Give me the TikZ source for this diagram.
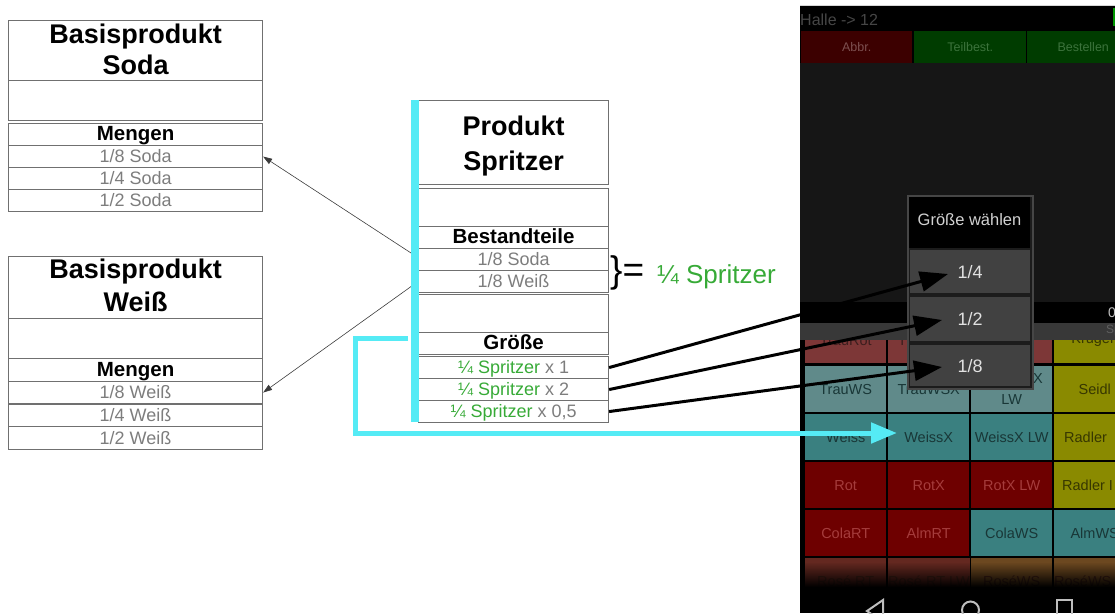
\documentclass[tikz,border=0pt]{standalone}
\usepackage{fontspec}
\setmainfont{Liberation Sans}
\usetikzlibrary{arrows.meta,fadings}
\definecolor{boxgray}{RGB}{112,112,112}
\definecolor{rowgray}{RGB}{125,125,125}
\definecolor{sgreen}{RGB}{55,170,55}
\definecolor{cyanl}{RGB}{85,235,245}
\definecolor{teal1}{RGB}{58,128,128}
\definecolor{trau}{RGB}{96,138,138}
\definecolor{yel}{RGB}{138,138,0}
\definecolor{red1}{RGB}{110,0,0}
\definecolor{red0}{RGB}{125,55,55}
\definecolor{roseRT}{RGB}{100,40,32}
\definecolor{roseWS}{RGB}{108,72,32}
\definecolor{txtteal}{RGB}{25,55,55}
\definecolor{txtred}{RGB}{165,60,60}
\definecolor{txtyel}{RGB}{55,55,0}
\definecolor{txtdark}{RGB}{60,30,30}
\definecolor{txtrose}{RGB}{70,35,25}
\definecolor{topline}{RGB}{215,215,215}
\definecolor{halle}{RGB}{70,70,70}
\definecolor{statusgreen}{RGB}{0,150,0}
\definecolor{btnred}{RGB}{60,0,0}
\definecolor{btngreen}{RGB}{0,60,0}
\definecolor{btnredtxt}{RGB}{125,80,80}
\definecolor{btngreentxt}{RGB}{60,115,60}
\definecolor{darkarea}{RGB}{22,22,22}
\definecolor{graybar}{RGB}{56,56,56}
\definecolor{dlgbg}{RGB}{28,28,28}
\definecolor{dlgborder}{RGB}{70,70,70}
\definecolor{optgray}{RGB}{65,65,65}
\definecolor{opttxt}{RGB}{225,225,225}
\definecolor{dlgtxt}{RGB}{210,210,210}
\definecolor{navgray}{RGB}{190,190,190}
\definecolor{thinarrow}{RGB}{60,60,60}
\tikzfading[name=fadedown, top color=transparent!100, bottom color=transparent!0]
\newcommand\dstrut[1]{\rule[-#1]{0pt}{#1}}
\newcommand\ttlfontA{\fontsize{27}{31}\selectfont\bfseries}
\newcommand\ttlfontB{\fontsize{27}{33}\selectfont\bfseries}
\newcommand\ttlfontC{\fontsize{27}{35}\selectfont\bfseries}
\newcommand\lblfont{\fontsize{20.5}{22}\selectfont\bfseries}
\newcommand\itmfont{\fontsize{18}{20}\selectfont}
\newcommand\cellfont{\fontsize{14.5}{21}\selectfont}
\newcommand\sgr[1]{\textcolor{sgreen}{#1}}
\begin{document}
\begin{tikzpicture}[x=1pt,y=-1pt,
  cellbase/.style={draw=boxgray, line width=1.1pt, rectangle, inner sep=0pt, anchor=north west},
  ttl/.style={cellbase, align=center, text=black},
  lbl/.style={cellbase, font=\lblfont, text=black, text height=12pt, text depth=0pt},
  itm/.style={cellbase, font=\itmfont, text=rowgray, text height=12pt, text depth=0pt},
  emp/.style={cellbase},
  pc/.style={rectangle, inner sep=0pt, anchor=north west, minimum width=81pt, minimum height=46pt, font=\cellfont},
  btn/.style={rectangle, inner sep=0pt, anchor=north west, minimum height=32pt, font=\fontsize{12.5}{13}\selectfont},
  opt/.style={rectangle, inner sep=0pt, anchor=north west, minimum width=120pt, fill=optgray, text=opttxt, font=\fontsize{18}{18}\selectfont},
  thinarr/.style={draw=thinarrow, line width=0.6pt, -{Triangle[length=9pt,width=6pt]}},
  blkarr/.style={draw=black, line width=3pt, -{Triangle[length=28pt,width=20pt]}},
  cyanarr/.style={draw=cyanl, line width=5pt, line join=miter, -{Triangle[length=26pt,width=20pt]}},
  navicon/.style={draw=navgray, line width=2pt}
]
\useasboundingbox (0,0) rectangle (1115,613);

% ---------- Basisprodukt Soda ----------
\node[ttl, font=\ttlfontA, minimum width=254pt, minimum height=60pt] (sT) at (8,20) {Basisprodukt\\Soda\dstrut{2.7pt}};
\node[emp, minimum width=254pt, minimum height=40pt] (sE) at (8,80) {};
\node[lbl, minimum width=254pt, minimum height=22pt] (sM) at (8,123) {Mengen};
\node[itm, minimum width=254pt, minimum height=22pt] (s1) at (8,145) {1/8 Soda};
\node[itm, minimum width=254pt, minimum height=22pt] (s2) at (8,167) {1/4 Soda};
\node[itm, minimum width=254pt, minimum height=22pt] (s3) at (8,189) {1/2 Soda};

% ---------- Basisprodukt Weiß ----------
\node[ttl, font=\ttlfontB, minimum width=254pt, minimum height=62pt] (wT) at (8,256) {Basisprodukt\\Weiß\dstrut{4.7pt}};
\node[emp, minimum width=254pt, minimum height=40pt] (wE) at (8,318) {};
\node[lbl, minimum width=254pt, minimum height=23pt] (wM) at (8,358) {Mengen};
\node[itm, minimum width=254pt, minimum height=22pt] (w1) at (8,381) {1/8 Weiß};
\node[itm, minimum width=254pt, minimum height=22pt] (w2) at (8,404) {1/4 Weiß};
\node[itm, minimum width=254pt, minimum height=23pt] (w3) at (8,426) {1/2 Weiß};

% ---------- Produkt Spritzer ----------
\node[ttl, font=\ttlfontC, minimum width=190pt, minimum height=84pt] (pT) at (418,100) {\rule{0pt}{26.7pt}Produkt\\Spritzer};
\node[emp, minimum width=190pt, minimum height=38pt] (pE1) at (418,188) {};
\node[lbl, minimum width=190pt, minimum height=22pt] (pB) at (418,226) {Bestandteile};
\node[itm, minimum width=190pt, minimum height=22pt] (p1) at (418,248) {1/8 Soda};
\node[itm, minimum width=190pt, minimum height=22pt] (p2) at (418,270) {1/8 Weiß};
\node[emp, minimum width=190pt, minimum height=38pt] (pE2) at (418,294) {};
\node[lbl, minimum width=190pt, minimum height=22pt] (pG) at (418,332) {Größe};
\node[itm, minimum width=190pt, minimum height=22pt] (r1) at (418,356) {\sgr{¼ Spritzer} x 1};
\node[itm, minimum width=190pt, minimum height=22pt] (r2) at (418,378) {\sgr{¼ Spritzer} x 2};
\node[itm, minimum width=190pt, minimum height=22pt] (r3) at (418,400) {\sgr{¼ Spritzer} x 0,5};

% thin connectors to base products
\draw[thinarr] ([yshift=2pt]p1.west) -- (s1.east);
\draw[thinarr] (p2.west) -- (w1.east);

% cyan bar
\fill[cyanl] (411,100) rectangle (419,422);

% brace and equation
\node[anchor=base west, inner sep=0pt, font=\fontsize{37}{37}\selectfont] (brc) at (610,282) {\}=};
\node[anchor=base west, inner sep=0pt, font=\fontsize{26}{26}\selectfont, text=sgreen] (eq) at (657,283) {¼ Spritzer};

% ---------- phone screenshot ----------
\begin{scope}
\clip (800,0) rectangle (1115,613);
\fill[black] (800,6) rectangle (1115,613);
\draw[topline, line width=1.5pt] (800,5.5) -- (1115,5.5);
\node[anchor=base west, inner sep=0pt, font=\fontsize{16}{16}\selectfont, text=halle] (hal) at (800,25) {Halle -> 12};
\fill[statusgreen] (1113,8) rectangle (1115,26);
\node[btn, fill=btnred, text=btnredtxt, minimum width=111pt] (bAb) at (801,31) {Abbr.};
\node[btn, fill=btngreen, text=btngreentxt, minimum width=112pt] (bTe) at (914,31) {Teilbest.};
\node[btn, fill=btngreen, text=btngreentxt, minimum width=112pt] (bBe) at (1027,31) {Bestellen};
\fill[darkarea] (800,63) rectangle (1115,302);

% row 0
\node[pc, fill=red0, text=txtdark] (c01) at (805,317) {TrauRot};
\node[pc, fill=red0, text=txtdark] (c02) at (888,317) {TrauRotX};
\node[pc, fill=red0] (c03) at (971,317) {};
\node[pc, fill=yel, text=txtyel] (c04) at (1054,317) {Krügerl};
% row 1
\node[pc, fill=trau, text=txtteal] (c11) at (805,366) {TrauWS};
\node[pc, fill=trau, text=txtteal] (c12) at (888,366) {TrauWSX};
\node[pc, fill=trau, text=txtteal, align=center] (c13) at (971,366) {TrauWSX\\LW};
\node[pc, fill=yel, text=txtyel] (c14) at (1054,366) {Seidl};
% row 2
\node[pc, fill=teal1, text=txtteal] (c21) at (805,414) {Weiss};
\node[pc, fill=teal1, text=txtteal] (c22) at (888,414) {WeissX};
\node[pc, fill=teal1, text=txtteal] (c23) at (971,414) {WeissX LW};
\node[pc, fill=yel, text=txtyel] (c24) at (1054,414) {\makebox[81pt][l]{\hspace{10pt}Radler}};
% row 3
\node[pc, fill=red1, text=txtred] (c31) at (805,462) {Rot};
\node[pc, fill=red1, text=txtred] (c32) at (888,462) {RotX};
\node[pc, fill=red1, text=txtred] (c33) at (971,462) {RotX LW};
\node[pc, fill=yel, text=txtyel] (c34) at (1054,462) {\makebox[81pt][l]{\hspace{8pt}Radler I}};
% row 4
\node[pc, fill=red1, text=txtred] (c41) at (805,510) {ColaRT};
\node[pc, fill=red1, text=txtred] (c42) at (888,510) {AlmRT};
\node[pc, fill=teal1, text=txtteal] (c43) at (971,510) {ColaWS};
\node[pc, fill=teal1, text=txtteal] (c44) at (1054,510) {AlmWS};
% row 5
\node[pc, fill=roseRT, text=txtrose] (c51) at (805,558) {Rosé RT};
\node[pc, fill=roseRT, text=txtrose] (c52) at (888,558) {Rosé RT LW};
\node[pc, fill=roseWS, text=txtrose] (c53) at (971,558) {RoséWS};
\node[pc, fill=roseWS, text=txtrose] (c54) at (1054,558) {RoséWS LW};

% bars over the grid
\fill[black] (800,302) rectangle (1115,323);
\fill[graybar] (800,323) rectangle (1115,340);
\node[anchor=west, inner sep=0pt, font=\fontsize{14}{14}\selectfont, text=navgray] (zero) at (1108,313) {0};
\node[anchor=west, inner sep=0pt, font=\fontsize{12}{12}\selectfont, text={rgb,255:red,95;green,95;blue,95}] (sp) at (1106,331) {Sp};

% bottom fade and navigation bar
\fill[black, path fading=fadedown] (800,562) rectangle (1115,587);
\fill[black] (800,586.5) rectangle (1115,613);
\draw[navicon] (883,600) -- (867,611) -- (883,622) -- cycle;
\draw[navicon] (970.5,610) circle[radius=8.5pt];
\draw[navicon] (1057,600) rectangle (1072,618);

% dialog
\node[rectangle, anchor=north west, minimum width=125pt, minimum height=193pt, fill=dlgbg, draw=dlgborder, line width=1.5pt, inner sep=0pt] (dlg) at (907,195) {};
\fill[black] (909,197) rectangle (1030,248);
\node[anchor=base, inner sep=0pt, font=\fontsize{16.5}{17}\selectfont, text=dlgtxt] (dtitle) at (969.5,225) {Größe wählen};
\node[opt, minimum height=43pt] (o14) at (910,250) {1/4};
\node[opt, minimum height=44pt] (o12) at (910,297) {1/2};
\node[opt, minimum height=41pt] (o18) at (910,345) {1/8};
\end{scope}

% arrows from sizes to dialog options
\coordinate (a14) at (948,274);
\coordinate (a12) at (942,320);
\coordinate (a18) at (942,367);
\draw[blkarr] (r1.east) -- (a14);
\draw[blkarr] (r2.east) -- (a12);
\draw[blkarr] (r3.east) -- (a18);

% cyan connector to WeissX
\coordinate (cy0) at (408,338);
\coordinate (cyT) at (897,433);
\draw[cyanarr] (cy0) -- (355,338) |- (cyT);
\end{tikzpicture}
\end{document}
